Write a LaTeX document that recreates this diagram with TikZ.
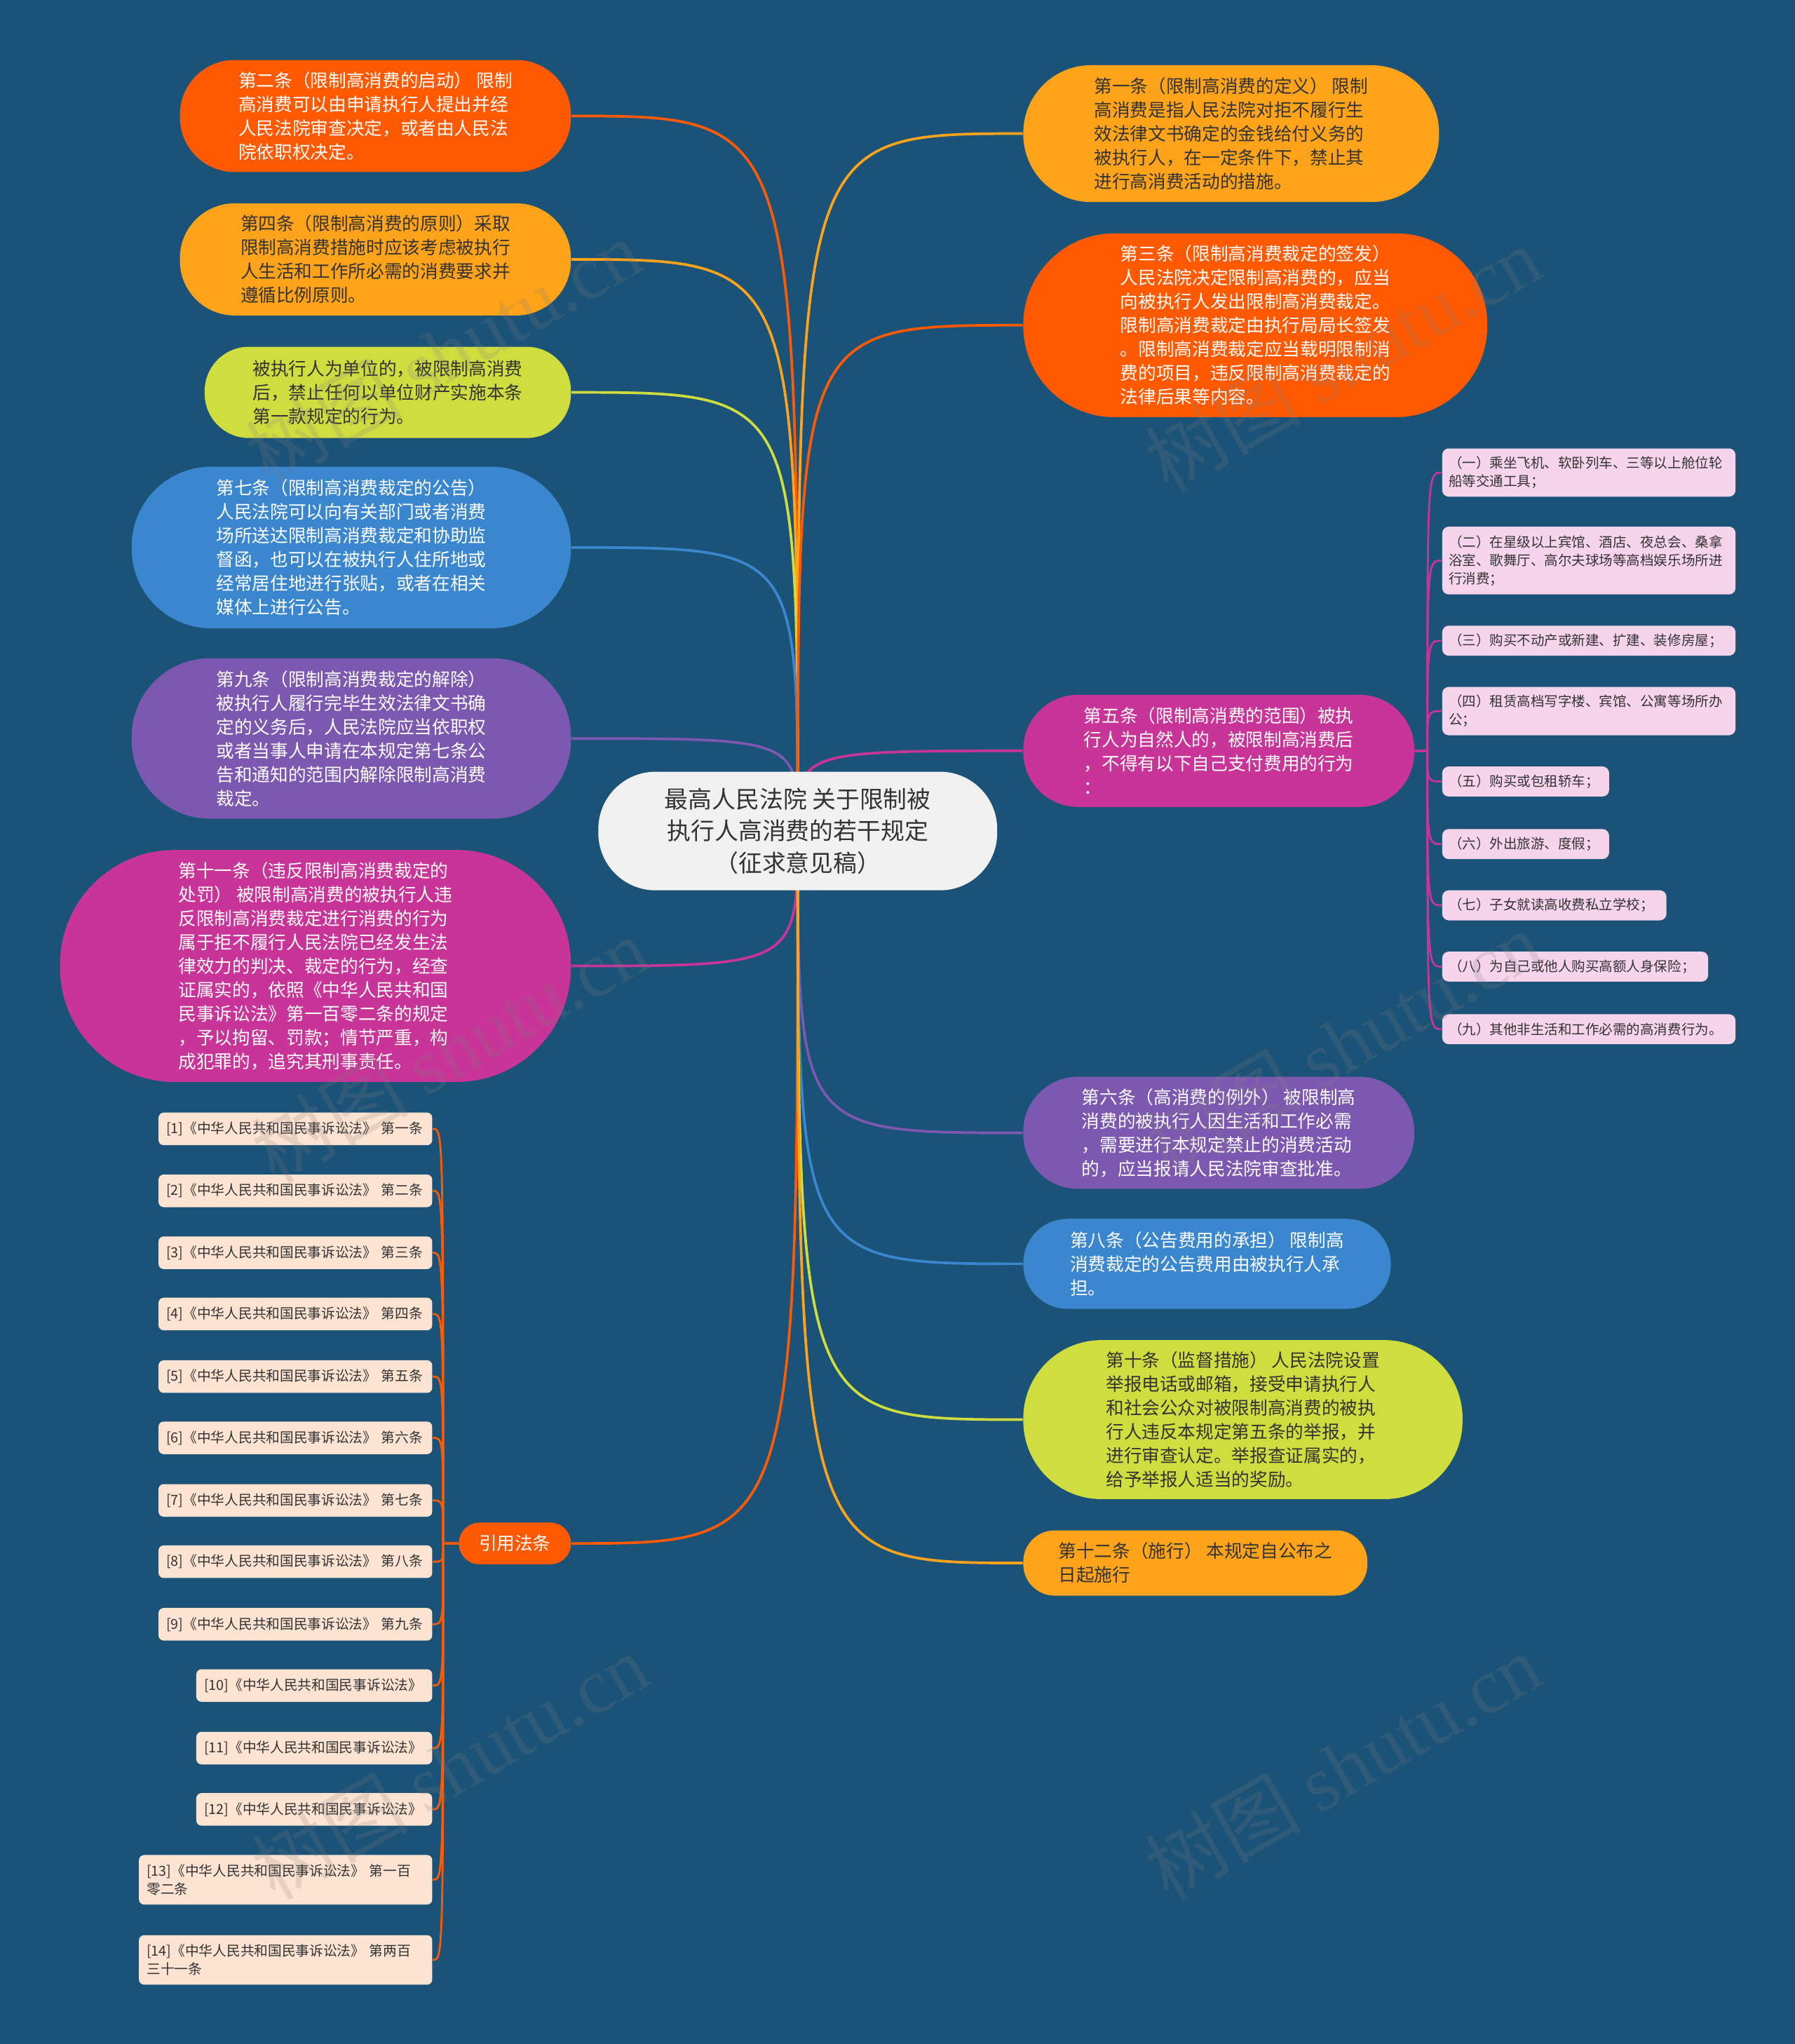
\documentclass[tikz,border=0pt]{standalone}
\usepackage{fontspec}
\setmainfont{Noto Sans CJK SC}
\newfontfamily\wmserif{Liberation Serif}
\usetikzlibrary{backgrounds}
\definecolor{bgblue}{HTML}{1B5277}
\definecolor{corange}{HTML}{FF5A02}
\definecolor{camber}{HTML}{FFA31A}
\definecolor{clime}{HTML}{D0DD3F}
\definecolor{cblue}{HTML}{3A87D0}
\definecolor{cpurple}{HTML}{7D58B0}
\definecolor{cmagenta}{HTML}{C83498}
\definecolor{cpink}{HTML}{F6D4EC}
\definecolor{cpeach}{HTML}{FDE3D2}
\definecolor{croot}{HTML}{F1F1F1}
\definecolor{txtdark}{HTML}{333333}
\begin{document}
\begin{tikzpicture}[x=0.5pt,y=-0.5pt,
  pill/.style={inner sep=0pt, align=left, font=\fontsize{6.9pt}{9.15pt}\selectfont},
  lt/.style={text=white},
  dk/.style={text=txtdark},
  conn/.style={line width=1pt},
  thinconn/.style={line width=0.75pt},
  refbox/.style={fill=cpeach, rounded corners=2pt, anchor=east, inner xsep=3pt, inner ysep=0pt,
    align=left, font=\fontsize{5.3pt}{7pt}\selectfont, text=txtdark, minimum height=12.5pt},
  subbox/.style={fill=cpink, rounded corners=2.5pt, anchor=west, inner xsep=2.5pt, inner ysep=0pt,
    align=left, font=\fontsize{5.25pt}{7pt}\selectfont, text=txtdark, minimum height=11.5pt},
  wm/.style={text=gray, opacity=0.2, rotate=30, font=\fontsize{30pt}{32pt}\selectfont}
]
\useasboundingbox (0,0) rectangle (1377,1568);
\begin{pgfonlayer}{background}
\fill[bgblue] (0,0) rectangle (1377,1568);
\end{pgfonlayer}

% root
\node[fill=croot, text=txtdark, inner sep=0pt, align=center, minimum width=153pt, minimum height=45.5pt,
  rounded corners=22pt, font=\fontsize{9.1pt}{12.25pt}\selectfont] (root) at (612,637.5)
  {最高人民法院 关于限制被\\执行人高消费的若干规定\\（征求意见稿）};

% left nodes
\node[pill, lt, fill=corange, minimum width=150pt, minimum height=43pt, rounded corners=21pt] (L1) at (288,89)
  {第二条（限制高消费的启动） 限制\\高消费可以由申请执行人提出并经\\人民法院审查决定，或者由人民法\\院依职权决定。};
\node[pill, dk, fill=camber, minimum width=150pt, minimum height=43pt, rounded corners=21pt] (L2) at (288,199)
  {第四条（限制高消费的原则）采取\\限制高消费措施时应该考虑被执行\\人生活和工作所必需的消费要求并\\遵循比例原则。};
\node[pill, dk, fill=clime, minimum width=140.5pt, minimum height=35pt, rounded corners=17pt] (L3) at (297.5,301)
  {被执行人为单位的，被限制高消费\\后，禁止任何以单位财产实施本条\\第一款规定的行为。};
\node[pill, lt, fill=cblue, minimum width=168.5pt, minimum height=62pt, rounded corners=30.5pt] (L4) at (269.5,420)
  {第七条（限制高消费裁定的公告）\\人民法院可以向有关部门或者消费\\场所送达限制高消费裁定和协助监\\督函，也可以在被执行人住所地或\\经常居住地进行张贴，或者在相关\\媒体上进行公告。};
\node[pill, lt, fill=cpurple, minimum width=168.5pt, minimum height=61.5pt, rounded corners=30pt] (L5) at (269.5,566.5)
  {第九条（限制高消费裁定的解除）\\被执行人履行完毕生效法律文书确\\定的义务后，人民法院应当依职权\\或者当事人申请在本规定第七条公\\告和通知的范围内解除限制高消费\\裁定。};
\node[pill, lt, fill=cmagenta, minimum width=196pt, minimum height=89pt, rounded corners=44pt] (L6) at (242,741)
  {第十一条（违反限制高消费裁定的\\处罚） 被限制高消费的被执行人违\\反限制高消费裁定进行消费的行为\\属于拒不履行人民法院已经发生法\\律效力的判决、裁定的行为，经查\\证属实的，依照《中华人民共和国\\民事诉讼法》第一百零二条的规定\\，予以拘留、罚款；情节严重，构\\成犯罪的，追究其刑事责任。};
\node[pill, lt, fill=corange, minimum width=43pt, minimum height=16pt, rounded corners=7.9pt, align=center] (L7) at (395,1184)
  {引用法条};

% right nodes
\node[pill, dk, fill=camber, minimum width=159.5pt, minimum height=52.5pt, rounded corners=26pt] (R1) at (944.5,102.5)
  {第一条（限制高消费的定义） 限制\\高消费是指人民法院对拒不履行生\\效法律文书确定的金钱给付义务的\\被执行人，在一定条件下，禁止其\\进行高消费活动的措施。};
\node[pill, lt, fill=corange, minimum width=178pt, minimum height=70.5pt, rounded corners=35pt] (R2) at (963,249.5)
  {第三条（限制高消费裁定的签发）\\人民法院决定限制高消费的，应当\\向被执行人发出限制高消费裁定。\\限制高消费裁定由执行局局长签发\\。限制高消费裁定应当载明限制消\\费的项目，违反限制高消费裁定的\\法律后果等内容。};
\node[pill, lt, fill=cmagenta, minimum width=150pt, minimum height=43pt, rounded corners=21pt] (R3) at (935,576)
  {第五条（限制高消费的范围）被执\\行人为自然人的，被限制高消费后\\，不得有以下自己支付费用的行为\\：};
\node[pill, lt, fill=cpurple, minimum width=150pt, minimum height=43pt, rounded corners=21pt] (R4) at (935,869)
  {第六条（高消费的例外） 被限制高\\消费的被执行人因生活和工作必需\\，需要进行本规定禁止的消费活动\\的，应当报请人民法院审查批准。};
\node[pill, lt, fill=cblue, minimum width=141pt, minimum height=34.5pt, rounded corners=17pt] (R5) at (926,969.5)
  {第八条（公告费用的承担） 限制高\\消费裁定的公告费用由被执行人承\\担。};
\node[pill, dk, fill=clime, minimum width=168.5pt, minimum height=61pt, rounded corners=30pt] (R6) at (953.5,1089)
  {第十条（监督措施） 人民法院设置\\举报电话或邮箱，接受申请执行人\\和社会公众对被限制高消费的被执\\行人违反本规定第五条的举报，并\\进行审查认定。举报查证属实的，\\给予举报人适当的奖励。};
\node[pill, dk, fill=camber, minimum width=132pt, minimum height=25pt, rounded corners=12pt] (R7) at (917,1199)
  {第十二条（施行） 本规定自公布之\\日起施行};

% sub items of 第五条
\node[subbox, text width=107.5pt, minimum height=18.5pt] (S1) at (1106,362.5) {（一）乘坐飞机、软卧列车、三等以上舱位轮\\船等交通工具；};
\node[subbox, text width=107.5pt, minimum height=26pt] (S2) at (1106,430) {（二）在星级以上宾馆、酒店、夜总会、桑拿\\浴室、歌舞厅、高尔夫球场等高档娱乐场所进\\行消费；};
\node[subbox, text width=107.5pt] (S3) at (1106,491.5) {（三）购买不动产或新建、扩建、装修房屋；};
\node[subbox, text width=107.5pt, minimum height=18.5pt] (S4) at (1106,545.5) {（四）租赁高档写字楼、宾馆、公寓等场所办\\公；};
\node[subbox, text width=59pt] (S5) at (1106,599.5) {（五）购买或包租轿车；};
\node[subbox, text width=59pt] (S6) at (1106,647.5) {（六）外出旅游、度假；};
\node[subbox, text width=81pt] (S7) at (1106,694.5) {（七）子女就读高收费私立学校；};
\node[subbox, text width=97pt] (S8) at (1106,741.5) {（八）为自己或他人购买高额人身保险；};
\node[subbox, text width=107.5pt] (S9) at (1106,789.5) {（九）其他非生活和工作必需的高消费行为。};

% cited law items
\node[refbox, text width=99pt] (F1) at (332,866) {[1]《中华人民共和国民事诉讼法》 第一条};
\node[refbox, text width=99pt] (F2) at (332,913.5) {[2]《中华人民共和国民事诉讼法》 第二条};
\node[refbox, text width=99pt] (F3) at (332,961) {[3]《中华人民共和国民事诉讼法》 第三条};
\node[refbox, text width=99pt] (F4) at (332,1008) {[4]《中华人民共和国民事诉讼法》 第四条};
\node[refbox, text width=99pt] (F5) at (332,1056) {[5]《中华人民共和国民事诉讼法》 第五条};
\node[refbox, text width=99pt] (F6) at (332,1103) {[6]《中华人民共和国民事诉讼法》 第六条};
\node[refbox, text width=99pt] (F7) at (332,1151) {[7]《中华人民共和国民事诉讼法》 第七条};
\node[refbox, text width=99pt] (F8) at (332,1198) {[8]《中华人民共和国民事诉讼法》 第八条};
\node[refbox, text width=99pt] (F9) at (332,1246) {[9]《中华人民共和国民事诉讼法》 第九条};
\node[refbox, text width=84.5pt] (F10) at (332,1293) {[10]《中华人民共和国民事诉讼法》};
\node[refbox, text width=84.5pt] (F11) at (332,1341) {[11]《中华人民共和国民事诉讼法》};
\node[refbox, text width=84.5pt] (F12) at (332,1388) {[12]《中华人民共和国民事诉讼法》};
\node[refbox, text width=106.5pt, minimum height=19pt] (F13) at (332,1442) {[13]《中华人民共和国民事诉讼法》 第一百\\零二条};
\node[refbox, text width=106.5pt, minimum height=19pt] (F14) at (332,1503.5) {[14]《中华人民共和国民事诉讼法》 第两百\\三十一条};

\coordinate (sp) at (340,1184);
\coordinate (s5) at (1095,576);

\begin{pgfonlayer}{background}
\foreach \n/\c in {L1/corange, L2/camber, L3/clime, L4/cblue, L5/cpurple, L6/cmagenta, L7/corange}
  \draw[conn, \c] (root.center) .. controls (root.center |- \n.east) .. (\n.east);
\foreach \n/\c in {R1/camber, R2/corange, R3/cmagenta, R4/cpurple, R5/cblue, R6/clime, R7/camber}
  \draw[conn, \c] (root.center) .. controls (root.center |- \n.west) .. (\n.west);
\foreach \i in {1,...,9}
  \draw[thinconn, cmagenta] (R3.east) -- (s5) .. controls (s5 |- S\i.west) .. (S\i.west);
\foreach \i in {1,...,14}
  \draw[thinconn, corange] (L7.west) -- (sp) .. controls (sp |- F\i.east) .. (F\i.east);
\end{pgfonlayer}

% watermarks
\node[wm] (w1) at (340,270) {树图 {\wmserif shutu.cn}};
\node[wm] (w2) at (1030,275) {树图 {\wmserif shutu.cn}};
\node[wm] (w3) at (345,805) {树图 {\wmserif shutu.cn}};
\node[wm] (w4) at (1030,800) {树图 {\wmserif shutu.cn}};
\node[wm] (w5) at (345,1355) {树图 {\wmserif shutu.cn}};
\node[wm] (w6) at (1030,1355) {树图 {\wmserif shutu.cn}};
\end{tikzpicture}
\end{document}
